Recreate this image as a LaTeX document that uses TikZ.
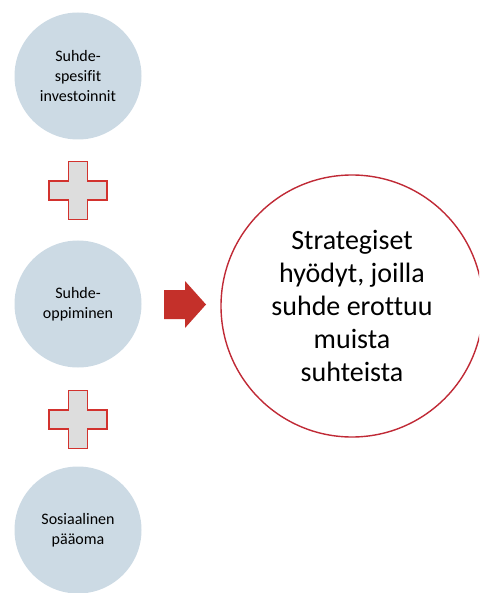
\documentclass[tikz,border=0pt]{standalone}
\usepackage{fontspec}
\setmainfont{Carlito}[Ligatures=NoCommon]

\definecolor{bubblefill}{HTML}{CCDAE4}
\definecolor{crossfill}{HTML}{DDDDDD}
\definecolor{crossline}{HTML}{D2322E}
\definecolor{arrowred}{HTML}{C4302A}
\definecolor{goalred}{HTML}{C02A36}

\tikzset{
  factor/.style={circle, fill=bubblefill, draw=none, minimum size=127pt,
    inner sep=0pt, align=center, font=\fontsize{16}{20}\selectfont},
  goal/.style={circle, draw=goalred, line width=1.4pt, fill=white,
    minimum size=262pt, inner sep=0pt, align=center,
    font=\fontsize{28}{33}\selectfont},
  plusfill/.style={fill=crossfill, draw=crossline, line width=1.3pt, line join=miter},
  blockarrow/.style={fill=arrowred, draw=none},
  pics/plussign/.style={code={
    \path[plusfill] (-9.5,-29) -- (9.5,-29) -- (9.5,-9.5) -- (29,-9.5)
      -- (29,9.5) -- (9.5,9.5) -- (9.5,29) -- (-9.5,29) -- (-9.5,9.5)
      -- (-29,9.5) -- (-29,-9.5) -- (-9.5,-9.5) -- cycle;
  }},
  pics/rightblock/.style={code={
    \path[blockarrow] (-21,-14.5) -- (0,-14.5) -- (0,-23.5) -- (21,0)
      -- (0,23.5) -- (0,14.5) -- (-21,14.5) -- cycle;
  }}
}

\begin{document}
\begin{tikzpicture}[x=1pt, y=-1pt]
  \useasboundingbox (0,0) rectangle (479,593);
  \begin{scope}
    \clip (0,0) rectangle (479,593);

    % three contributing factors
    \node[factor] (invest) at (78,76)  {Suhde-\\spesifit\\investoinnit};
    \node[factor] (learn)  at (78,304) {Suhde-\\oppiminen};
    \node[factor] (social) at (78,530) {Sosiaalinen\\pääoma};

    % plus signs between the factors
    \coordinate (plusA) at (78,190.5);
    \coordinate (plusB) at (78,419.5);
    \pic at (plusA) {plussign};
    \pic at (plusB) {plussign};

    % resulting strategic benefits
    \node[goal] (benefit) at (352,306)
      {Strategiset\\hyödyt, joilla\\suhde erottuu\\muista\\suhteista};

    % block arrow leading to the result
    \coordinate (lead) at (185,304.5);
    \pic at (lead) {rightblock};
  \end{scope}
\end{tikzpicture}
\end{document}
